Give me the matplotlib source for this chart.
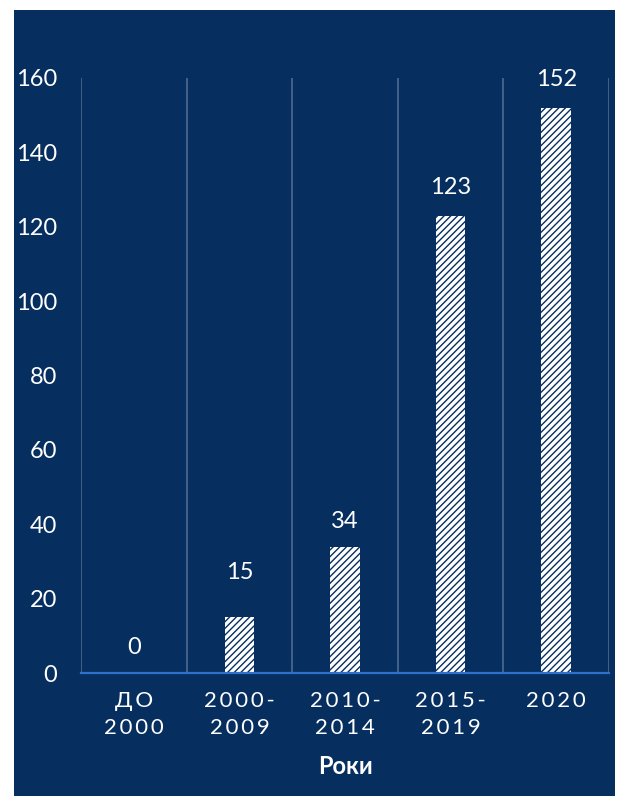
import matplotlib.pyplot as plt
import matplotlib.patches as mpatches
import numpy as np

sp = '\u2009'
categories = ['ДО\n2000', '2000-\n2009', '2010-\n2014', '2015-\n2019', '2020']
values = [0, 15, 34, 123, 152]
yticks = [0, 20, 40, 60, 80, 100, 120, 140, 160]
xlabel = 'Роки'

navy = '#062f60'
W, H = 619, 796

plt.rcParams['font.family'] = ['Lato', 'DejaVu Sans']
plt.rcParams['hatch.linewidth'] = 1.0
plt.rcParams['hatch.color'] = navy

fig = plt.figure(figsize=(W / 100, H / 100), dpi=100, facecolor='white')
# dark panel behind the chart
fig.patches.append(mpatches.Rectangle((14 / W, 0), (615 - 14) / W, (796 - 10) / H,
                                      transform=fig.transFigure, facecolor=navy,
                                      edgecolor='none', zorder=-1))

ax = fig.add_axes([81 / W, (H - 673) / H, (609 - 81) / W, (673 - 78) / H])
ax.set_facecolor('none')
ax.set_zorder(2)

x = np.arange(len(categories))
ax.bar(x, values, width=0.28, color='white', edgecolor=navy, hatch='/////',
       linewidth=0, zorder=3)

# value labels above bars
offsets = [18, 32, 18, 20, 20]
for xi, v, off in zip(x, values, offsets):
    ax.annotate(str(v), (xi, v), xytext=(0, off), textcoords='offset points',
                ha='center', va='center', color='white', fontsize=17)

ax.set_xlim(-0.5, len(categories) - 0.5)
ax.set_ylim(0, 160)
ax.set_yticks(yticks)
ax.set_yticklabels([str(t) for t in yticks], color='white', fontsize=17)
ax.tick_params(axis='y', length=0, pad=17)

# spread the letters of the category labels a little
spaced = ['\n'.join(sp.join(part) for part in c.split('\n')) for c in categories]
ax.set_xticks(x)
ax.set_xticklabels(spaced, color='white', fontsize=16, linespacing=1.45)
ax.tick_params(axis='x', length=0, pad=13)

# vertical separators between categories
for b in np.arange(-0.5, len(categories), 1.0):
    ax.axvline(b, color='#4d6b92', linewidth=1.2, zorder=1)

for s in ['top', 'left', 'right']:
    ax.spines[s].set_visible(False)
ax.spines['bottom'].set_color('#2f6fd0')
ax.spines['bottom'].set_linewidth(1.6)
ax.spines['bottom'].set_zorder(4)

ax.set_xlabel(xlabel, color='white', fontsize=17, fontweight='bold', labelpad=12)

fig.savefig('out.png', dpi=100, facecolor='white')
